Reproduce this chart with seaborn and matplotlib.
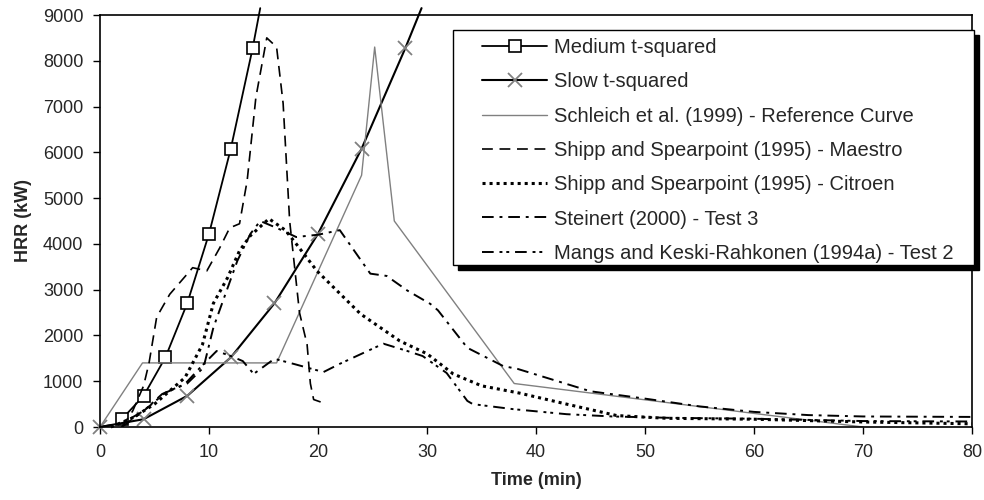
import numpy as np
import matplotlib.pyplot as plt
import matplotlib.patches as mpatches
import seaborn as sns
import pandas as pd

# Medium / slow t-squared design fires (markers every 2 / 4 min)
medium_t = [2, 4, 6, 8, 10, 12, 14, 14.7]
medium_q = [170, 680, 1520, 2700, 4220, 6080, 8270, 9150]
slow_t = [0, 4, 8, 12, 16, 20, 24, 28, 29.5]
slow_q = [0, 170, 680, 1520, 2700, 4220, 6080, 8270, 9150]

# Schleich et al. (1999) - Reference Curve
schleich_t = [0, 3.9, 16.2, 24, 25.2, 27, 38, 70]
schleich_q = [0, 1400, 1400, 5500, 8300, 4500, 950, 0]

# Shipp and Spearpoint (1995) - Maestro
maestro_t = [2, 3, 4, 4.5, 5.2, 6.4, 8.5, 9.8, 11, 11.9, 12.8, 13.5, 14.3, 15.3,
             16.2, 16.8, 17.4, 18.3, 19, 19.3, 19.6, 20.8]
maestro_q = [0, 350, 900, 1400, 2400, 2900, 3480, 3410, 3920, 4350, 4440, 5380, 7200, 8500,
             8300, 7070, 4500, 2500, 1800, 950, 600, 500]

# Shipp and Spearpoint (1995) - Citroen
citroen_t = [1, 3, 5, 7.8, 9.4, 10.4, 11.7, 12.8, 13.8, 15.5, 17, 18, 19.9, 23.9, 27.5,
             30, 32.4, 35, 38.5, 42.8, 47.4, 52, 60, 70, 80]
citroen_q = [0, 200, 500, 1080, 1800, 2700, 3260, 3850, 4180, 4550, 4300, 4000, 3410, 2470, 1880,
             1600, 1160, 900, 740, 500, 250, 190, 170, 110, 70]

# Steinert (2000) - Test 3
steinert_t = [2, 4, 6, 8, 9.5, 10.4, 12.6, 13.8, 14.7, 16.2, 18, 20, 22, 24.8, 26.3, 28.2,
              30.3, 31, 33.7, 37, 38.3, 45, 50, 55, 60, 65, 70, 80]
steinert_q = [0, 350, 750, 950, 1300, 2170, 3630, 4220, 4500, 4350, 4150, 4200, 4300, 3350, 3300, 2980,
              2690, 2550, 1730, 1330, 1270, 780, 620, 450, 330, 260, 230, 220]

# Mangs and Keski-Rahkonen (1994a) - Test 2
mangs_t = [0, 2, 4, 5.7, 7.8, 9.2, 10.7, 12, 13.1, 14.1, 16, 17.9, 20.5, 22, 26, 28.2, 29.6,
           31.8, 33.7, 34.2, 37.9, 42.8, 47, 52.3, 60, 70, 80]
mangs_q = [0, 80, 350, 720, 940, 1300, 1660, 1550, 1440, 1160, 1490, 1370, 1200, 1380, 1820, 1660, 1550,
           1180, 570, 500, 390, 280, 230, 200, 180, 130, 120]

sns.set_style("ticks")
plt.rcParams['font.family'] = ['Liberation Sans', 'DejaVu Sans']

W, H = 984, 500
fig = plt.figure(figsize=(W / 100, H / 100), dpi=100)
ax = fig.add_axes([100 / W, 1 - 427 / H, 872 / W, 412 / H])

grey = "#808080"

sns.lineplot(x=medium_t, y=medium_q, ax=ax, color="black", linewidth=1.3, marker="s",
             markersize=8, markerfacecolor="white", markeredgecolor="black", markeredgewidth=1.2,
             markevery=list(range(7)), clip_on=False, estimator=None, label="Medium t-squared")
sns.lineplot(x=slow_t, y=slow_q, ax=ax, color="black", linewidth=1.5, marker="x",
             markersize=10, markeredgecolor=grey, markeredgewidth=1.3,
             markevery=list(range(8)), clip_on=False, estimator=None, label="Slow t-squared")
sns.lineplot(x=schleich_t, y=schleich_q, ax=ax, color=grey, linewidth=1.0, estimator=None,
             label="Schleich et al. (1999) - Reference Curve")
sns.lineplot(x=maestro_t, y=maestro_q, ax=ax, color="black", linewidth=1.2, estimator=None,
             linestyle=(0, (6.5, 4)), label="Shipp and Spearpoint (1995) - Maestro")
sns.lineplot(x=citroen_t, y=citroen_q, ax=ax, color="black", linewidth=2.2, estimator=None,
             linestyle=(0, (1, 1.3)), clip_on=False, label="Shipp and Spearpoint (1995) - Citroen")
sns.lineplot(x=steinert_t, y=steinert_q, ax=ax, color="black", linewidth=1.4, estimator=None,
             linestyle=(0, (6, 3, 1.5, 3)), label="Steinert (2000) - Test 3")
sns.lineplot(x=mangs_t, y=mangs_q, ax=ax, color="black", linewidth=1.4, estimator=None,
             linestyle=(0, (6, 3, 1.5, 2, 1.5, 3)), label="Mangs and Keski-Rahkonen (1994a) - Test 2")

ax.set_xlim(0, 80)
ax.set_ylim(0, 9000)
ax.set_xticks(np.arange(0, 81, 10))
ax.set_yticks(np.arange(0, 9001, 1000))
ax.tick_params(axis="both", labelsize=13, length=5, width=1, pad=7, direction="out", color="black")
for side in ["left", "bottom", "top", "right"]:
    ax.spines[side].set_visible(True)
    ax.spines[side].set_color("black")
    ax.spines[side].set_linewidth(1.2)

ax.set_xlabel("Time (min)", fontsize=13, fontweight="bold", labelpad=8)
ax.set_ylabel("HRR (kW)", fontsize=13, fontweight="bold", labelpad=8)

# legend box with a solid drop shadow (frame drawn by hand)
def fig_box(x0, y0, x1, y1):
    return (x0 / W, 1 - y1 / H), (x1 - x0) / W, (y1 - y0) / H

xy, w, h = fig_box(458, 35, 979, 270)
ax.add_patch(mpatches.Rectangle(xy, w, h, transform=fig.transFigure, facecolor="black",
                                edgecolor="black", clip_on=False, zorder=4.4))
xy, w, h = fig_box(453, 30, 974, 265)
ax.add_patch(mpatches.Rectangle(xy, w, h, transform=fig.transFigure, facecolor="white",
                                edgecolor="black", linewidth=1, clip_on=False, zorder=4.5))

leg = ax.legend(loc="upper left", bbox_to_anchor=(482 / W, 1 - 38 / H), bbox_transform=fig.transFigure,
                fontsize=14.5, frameon=False, handlelength=3.25, handletextpad=0.35,
                labelspacing=0.76, borderpad=0, borderaxespad=0)
leg.set_zorder(5)

plt.savefig("out.png", dpi=100)
